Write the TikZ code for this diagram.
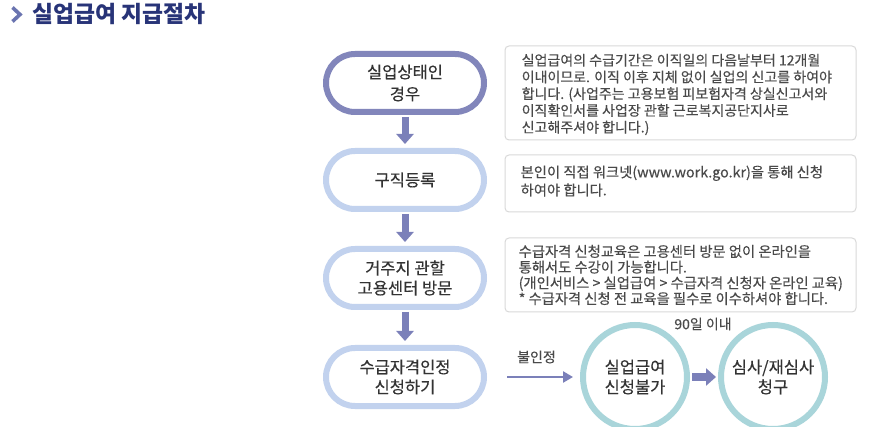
\documentclass[tikz,border=0pt]{standalone}
\usepackage{fontspec}
\setmainfont{Noto Sans CJK KR}
\newfontfamily\krmed[FakeBold=0.3]{Noto Sans CJK KR}
\usetikzlibrary{arrows.meta}
\definecolor{navy}{HTML}{283478}
\definecolor{chev}{HTML}{6A74B0}
\definecolor{pillA}{HTML}{8286BB}
\definecolor{pillB}{HTML}{C2D2EE}
\definecolor{arrowc}{HTML}{7B80B9}
\definecolor{circ}{HTML}{A9D5DA}
\definecolor{boxline}{HTML}{D9D9D9}
\definecolor{txt}{HTML}{333333}
\definecolor{txtb}{HTML}{4A4A4A}
\begin{document}
\begin{tikzpicture}[x=1pt,y=-1pt,
  pill/.style={draw=pillB, line width=6pt, minimum width=158pt, minimum height=58pt,
    rounded corners=29pt, align=center, font=\krmed\fontsize{16.5}{20}\selectfont, text=txt, inner sep=0pt},
  infobox/.style={draw=boxline, line width=1pt, rounded corners=4pt, fill=white, inner sep=0pt},
  boxtext/.style={align=left, anchor=west, inner sep=0pt, text=txtb},
  ring/.style={circle, draw=circ, line width=6pt, minimum size=104pt, inner sep=0pt,
    align=center, font=\krmed\fontsize{16.5}{20}\selectfont, text=txt},
  blockarrow/.style={draw=arrowc, line width=7pt, -{Triangle[width=17pt,length=10pt]}},
  thinarrow/.style={draw=arrowc, line width=2.5pt, -{Triangle[width=11pt,length=10pt]}},
  lbl/.style={font=\krmed\fontsize{14}{16}\selectfont, text=txtb, inner sep=0pt}
]
\useasboundingbox[fill=white] (0,0) rectangle (883,427);

% title
\draw[chev, line width=3.6pt, line cap=butt, line join=miter] (12.5,7.5) -- (20,14.5) -- (12.5,21.5);
\node[anchor=west, inner sep=0pt, text=navy, font=\fontsize{22.8}{24}\selectfont\bfseries] (title) at (32,14) {실업급여 지급절차};

% flow pills
\node[pill, draw=pillA, font=\krmed\fontsize{16.5}{22}\selectfont] (n1) at (405,83) {실업상태인\\경우};
\node[pill] (n2) at (405,180) {구직등록};
\node[pill] (n3) at (405,278) {거주지 관할\\고용센터 방문};
\node[pill] (n4) at (405,377) {수급자격인정\\신청하기};

\draw[blockarrow, shorten <=2pt, shorten >=4pt] (n1.south) -- (n2.north);
\draw[blockarrow, shorten <=2pt, shorten >=4pt] (n2.south) -- (n3.north);
\draw[blockarrow, shorten <=2pt, shorten >=4pt] (n3.south) -- (n4.north);

% info boxes
\node[infobox, minimum width=351pt, minimum height=94pt] (b1) at (680.5,93) {};
\node[boxtext, font=\krmed\fontsize{14}{16.75}\selectfont] (t1) at ([xshift=17pt,yshift=-1.5pt]b1.west)
  {실업급여의 수급기간은 이직일의 다음날부터 12개월\\이내이므로. 이직 이후 지체 없이 실업의 신고를 하여야\\합니다. (사업주는 고용보험 피보험자격 상실신고서와\\이직확인서를 사업장 관할 근로복지공단지사로\\신고해주셔야 합니다.)};

\node[infobox, minimum width=351pt, minimum height=57pt] (b2) at (680.5,183.5) {};
\node[boxtext, font=\krmed\fontsize{14.3}{18}\selectfont] (t2) at ([xshift=16pt,yshift=2.5pt]b2.west)
  {본인이 직접 워크넷(www.work.go.kr)을 통해 신청\\하여야 합니다.};

\node[infobox, minimum width=351pt, minimum height=74pt] (b3) at (680.5,275) {};
\node[boxtext, font=\krmed\fontsize{14.3}{15.7}\selectfont] (t3) at ([xshift=14pt]b3.west)
  {수급자격 신청교육은 고용센터 방문 없이 온라인을\\통해서도 수강이 가능합니다.\\(개인서비스 \textgreater{} 실업급여 \textgreater{} 수급자격 신청자 온라인 교육)\\* 수급자격 신청 전 교육을 필수로 이수하셔야 합니다.};

% bottom row
\node[ring] (c1) at (635,377) {실업급여\\신청불가};
\node[ring] (c2) at (773,377) {심사/재심사\\청구};

\draw[thinarrow, shorten <=20pt, shorten >=7pt] (n4.east) -- (c1.west)
  node[pos=0.5, lbl, yshift=20pt, xshift=3pt] (l1) {불인정};
\draw[blockarrow, line width=8pt, shorten <=2pt, shorten >=2pt] (c1.east) -- (c2.west);
\node[lbl] (l2) at (703,324) {90일 이내};
\end{tikzpicture}
\end{document}
